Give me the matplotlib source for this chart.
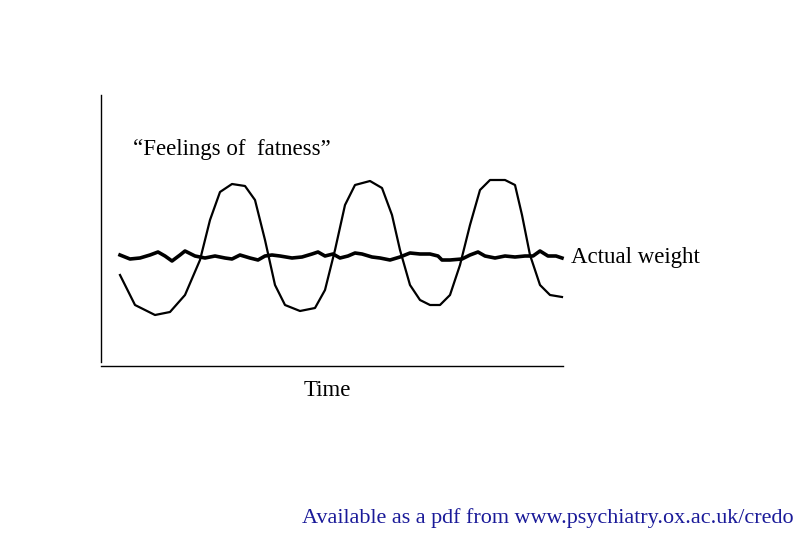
import matplotlib

matplotlib.use("Agg")
import matplotlib.pyplot as plt

# Curves, in pixel coordinates (y grows downward).
fat_x = [120, 135, 155, 170, 185, 200, 210, 220, 232, 245, 255, 265, 275, 285, 300,
         315, 325, 335, 345, 355, 370, 382, 392, 400, 410, 420, 430, 440, 450, 460,
         470, 480, 490, 505, 515, 522, 530, 540, 550, 562]
fat_y = [275, 305, 315, 312, 295, 260, 220, 192, 184, 186, 200, 240, 285, 305, 311,
         308, 290, 250, 205, 185, 181, 188, 215, 250, 285, 300, 305, 305, 295, 265,
         225, 190, 180, 180, 185, 215, 255, 285, 295, 297]

weight_x = [120, 130, 140, 150, 158, 165, 172, 180, 185, 195, 205, 215, 225, 232,
            240, 250, 258, 265, 272, 280, 292, 302, 312, 318, 325, 333, 340, 348,
            355, 362, 372, 380, 390, 400, 410, 420, 430, 438, 442, 450, 462, 470,
            478, 485, 495, 505, 515, 525, 533, 540, 548, 556, 562]
weight_y = [255, 259, 258, 255, 252, 256, 261, 255, 251, 256, 258, 256, 258, 259,
            255, 258, 260, 256, 255, 256, 258, 257, 254, 252, 256, 254, 258, 256,
            253, 254, 257, 258, 260, 257, 253, 254, 254, 256, 260, 260, 259, 255,
            252, 256, 258, 256, 257, 256, 256, 251, 256, 256, 258]

fig = plt.figure(figsize=(8.1, 5.4), dpi=100)
ax = fig.add_axes([0, 0, 1, 1])
ax.set_xlim(0, 810)
ax.set_ylim(540, 0)
ax.axis("off")

serif = "Liberation Serif"
ax.plot([101, 101], [95, 362], color="black", lw=1)
ax.plot([101, 563], [366, 366], color="black", lw=1)
ax.plot(fat_x, fat_y, color="black", lw=1.6, solid_joinstyle="round")
ax.plot(weight_x, weight_y, color="black", lw=2.6, solid_joinstyle="round")

ax.text(133, 149, "\u201cFeelings of  fatness\u201d", family=serif, fontsize=16.5, va="center")
ax.text(571, 257, "Actual weight", family=serif, fontsize=16.5, va="center")
ax.text(304, 391, "Time", family=serif, fontsize=16.5, va="center")
ax.text(302, 518, "Available as a pdf from www.psychiatry.ox.ac.uk/credo",
        family=serif, fontsize=15.9, va="center", color="#1a1a99")

fig.savefig("out.png", dpi=100)
